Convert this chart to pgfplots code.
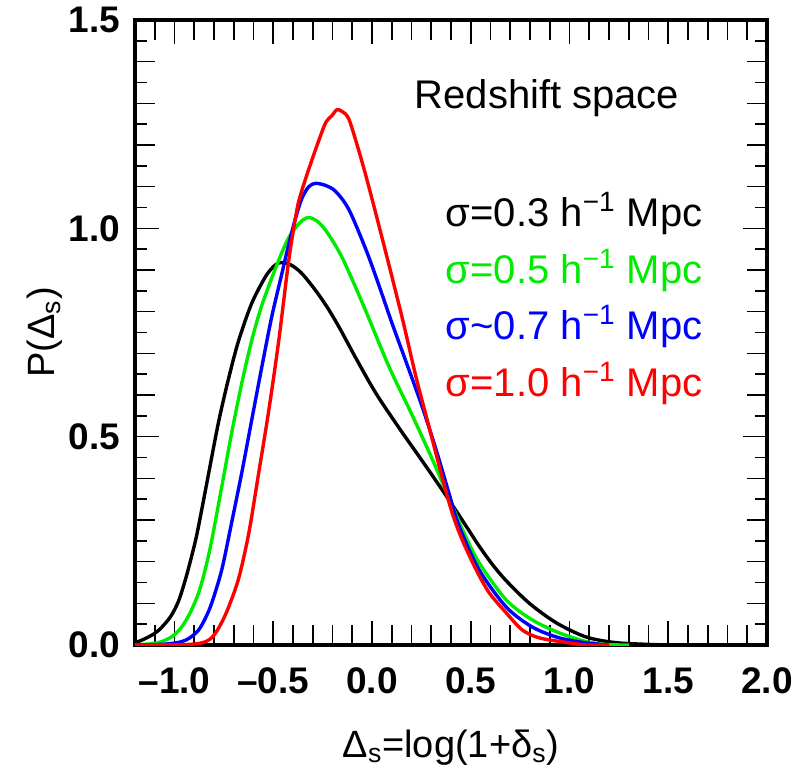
\documentclass[border=0pt]{standalone}
\usepackage{fontspec}
\setmainfont{Liberation Sans}
\usepackage{pgfplots}
\pgfplotsset{compat=1.18}
\usetikzlibrary{calc}
\definecolor{cBlack}{RGB}{0,0,0}
\definecolor{cGreen}{RGB}{0,235,0}
\definecolor{cBlue}{RGB}{0,0,255}
\definecolor{cRed}{RGB}{255,0,0}

\pgfplotstableread{
x y
-1.2 0.005
-1.15 0.015
-1.1 0.028
-1.066 0.042
-1.02 0.068
-0.98 0.105
-0.94 0.165
-0.893 0.252
-0.86 0.33
-0.827 0.412
-0.777 0.535
-0.726 0.640
-0.675 0.731
-0.609 0.820
-0.538 0.885
-0.49 0.912
-0.457 0.918
-0.41 0.912
-0.36 0.894
-0.30 0.860
-0.234 0.816
-0.168 0.764
-0.081 0.688
0.02 0.604
0.137 0.521
0.254 0.442
0.376 0.358
0.492 0.274
0.543 0.237
0.610 0.193
0.680 0.154
0.797 0.100
0.934 0.053
1.086 0.019
1.25 0.005
1.5 0.0
}\sigA

\pgfplotstableread{
x y
-1.2 0.0
-1.12 0.003
-1.066 0.008
-1.01 0.021
-0.964 0.043
-0.92 0.078
-0.878 0.125
-0.845 0.18
-0.812 0.250
-0.761 0.379
-0.711 0.508
-0.66 0.627
-0.609 0.731
-0.558 0.815
-0.487 0.906
-0.43 0.970
-0.386 1.002
-0.35 1.020
-0.32 1.026
-0.28 1.018
-0.234 0.995
-0.168 0.945
-0.117 0.895
-0.03 0.800
0.086 0.668
0.203 0.552
0.305 0.446
0.406 0.335
0.46 0.275
0.543 0.197
0.680 0.108
0.812 0.060
0.949 0.029
1.086 0.008
1.19 0.001
1.3 0.0
}\sigB

\pgfplotstableread{
x y
-1.2 0.0
-1.05 0.002
-0.964 0.008
-0.92 0.018
-0.878 0.036
-0.845 0.063
-0.812 0.100
-0.761 0.180
-0.711 0.293
-0.66 0.412
-0.609 0.540
-0.558 0.667
-0.508 0.787
-0.457 0.890
-0.42 0.965
-0.386 1.026
-0.355 1.072
-0.32 1.100
-0.284 1.108
-0.23 1.102
-0.183 1.088
-0.117 1.045
-0.03 0.948
0.036 0.862
0.1 0.774
0.173 0.679
0.254 0.572
0.325 0.468
0.391 0.362
0.442 0.284
0.543 0.180
0.68 0.091
0.812 0.043
0.949 0.017
1.086 0.005
1.2 0.0
}\sigC

\pgfplotstableread{
x y
-1.2 0.0
-0.95 0.001
-0.863 0.005
-0.82 0.014
-0.792 0.029
-0.76 0.055
-0.726 0.091
-0.675 0.160
-0.624 0.268
-0.574 0.412
-0.523 0.562
-0.472 0.731
-0.421 0.925
-0.38 1.045
-0.355 1.091
-0.31 1.156
-0.27 1.21
-0.234 1.254
-0.2 1.272
-0.178 1.285
-0.15 1.280
-0.117 1.262
-0.066 1.185
-0.015 1.098
0.071 0.940
0.152 0.787
0.223 0.643
0.289 0.523
0.355 0.403
0.406 0.317
0.457 0.252
0.528 0.180
0.594 0.125
0.68 0.077
0.761 0.036
0.848 0.017
0.985 0.006
1.086 0.0
1.2 0.0
}\sigD

\begin{document}
\begin{tikzpicture}
\begin{axis}[
    scale only axis,
    width=316pt, height=312.5pt,
    xmin=-1.2, xmax=2.0,
    ymin=0, ymax=1.5,
    axis line style={line width=2pt},
    every tick/.style={black, line width=0.8pt},
    tick align=inside,
    xtick={-1,-0.5,0,0.5,1,1.5,2},
    xticklabels={–1.0,–0.5,0.0,0.5,1.0,1.5,2.0},
    minor xtick={-1.2,-1.1,...,2.0},
    ytick={0,0.5,1,1.5},
    yticklabels={0.0,0.5,1.0,1.5},
    minor ytick={0,0.1,...,1.5},
    extra y ticks={0.05,0.15,0.25,0.35,0.45,0.55,0.65,0.75,0.85,0.95,1.05,1.15,1.25,1.35,1.45},
    extra y tick labels={},
    extra y tick style={major tick length=6pt},
    major tick length=12pt,
    minor tick length=10pt,
    yminorticks=true,
    ticklabel style={font=\fontsize{18.5}{20}\selectfont\bfseries},
    xticklabel style={yshift=-8pt},
    yticklabel style={xshift=-4pt},
    xlabel={Δ\textsubscript{s}=log(1+δ\textsubscript{s})},
    ylabel={P(Δ\textsubscript{s})},
    label style={font=\fontsize{19}{22}\selectfont},
    xlabel style={yshift=-11pt},
    ylabel style={yshift=-4pt},
    clip=true,
]
\coordinate (bl) at (rel axis cs:0,0);
\coordinate (tr) at (rel axis cs:1,1);
\addplot[cBlack, line width=1.7pt, smooth, tension=0.5] table {\sigA};
\addplot[cGreen, line width=1.7pt, smooth, tension=0.5] table {\sigB};
\addplot[cBlue, line width=1.7pt, smooth, tension=0.5] table {\sigC};
\addplot[cRed, line width=1.7pt, smooth, tension=0.5] table {\sigD};
\node[font=\fontsize{20}{22}\selectfont, anchor=east, inner sep=0pt] at (axis cs:1.558,1.312) {Redshift space};
\node[font=\fontsize{20}{22}\selectfont, anchor=east, inner sep=0pt, text=cBlack] at (axis cs:1.675,1.036) {σ=0.3 h\textsuperscript{−1} Mpc};
\node[font=\fontsize{20}{22}\selectfont, anchor=east, inner sep=0pt, text=cGreen] at (axis cs:1.675,0.899) {σ=0.5 h\textsuperscript{−1} Mpc};
\node[font=\fontsize{20}{22}\selectfont, anchor=east, inner sep=0pt, text=cBlue] at (axis cs:1.675,0.765) {σ\textasciitilde0.7 h\textsuperscript{−1} Mpc};
\node[font=\fontsize{20}{22}\selectfont, anchor=east, inner sep=0pt, text=cRed] at (axis cs:1.675,0.628) {σ=1.0 h\textsuperscript{−1} Mpc};
\end{axis}
\pgfresetboundingbox
\path ($(bl)+(-67.5pt,-63pt)$) rectangle ($(tr)+(14.5pt,10pt)$);
\end{tikzpicture}
\end{document}
